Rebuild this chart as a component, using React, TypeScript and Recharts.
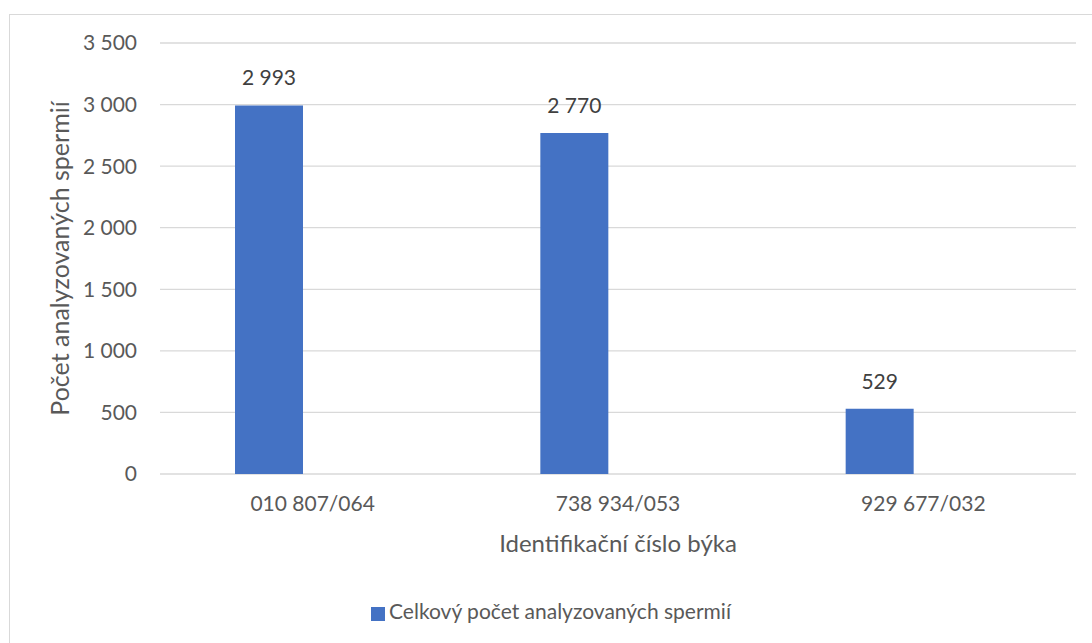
import React from 'react'
import { BarChart, Bar, XAxis, YAxis, CartesianGrid, Legend, LabelList } from 'recharts'

const bulls = ['010 807/064', '738 934/053', '929 677/032']
const spermCounts = [2993, 2770, 529]
const yTicks = [0, 500, 1000, 1500, 2000, 2500, 3000, 3500]

const FONT = 'Lato, "Open Sans", sans-serif'
const TEXT = '#595959'

const fmt = (v: any) => {
  const n = Number(v)
  if (!isFinite(n)) return ''
  return String(Math.round(n)).replace(/\B(?=(\d{3})+(?!\d))/g, ' ')
}

const data = bulls.map((b, i) => ({ bull: b, count: spermCounts[i], empty: null }))

export default function App() {
  return (
    <div style={{ position: 'absolute', left: 0, top: 0, width: 1092, height: 643, overflow: 'hidden', background: '#fff' }}>
      <div
        style={{
          position: 'absolute',
          left: 9,
          top: 14,
          width: 1120,
          height: 660,
          border: '1px solid #d9d9d9',
          boxSizing: 'border-box',
        }}
      />
      <div style={{ position: 'absolute', left: 0, top: 0 }}>
        <BarChart
          width={1092}
          height={643}
          data={data}
          margin={{ top: 43, right: 16, bottom: 54, left: 0 }}
          barGap={0}
        >
          <CartesianGrid vertical={false} stroke="#d9d9d9" strokeWidth={1.3} />
          <XAxis
            dataKey="bull"
            axisLine={false}
            tickLine={false}
            tickSize={0}
            tickMargin={22}
            height={90}
            tick={{ fill: TEXT, fontSize: 21, fontFamily: FONT }}
            label={{
              value: 'Identifikační číslo býka',
              position: 'insideBottom',
              offset: 12,
              fill: TEXT,
              fontSize: 24,
              fontFamily: FONT,
            }}
          />
          <YAxis
            domain={[0, 3500]}
            ticks={yTicks}
            interval={0}
            width={160}
            axisLine={false}
            tickLine={false}
            tickSize={0}
            tickMargin={23}
            tickFormatter={fmt}
            tick={{ fill: TEXT, fontSize: 21, fontFamily: FONT }}
            label={{
              value: 'Počet analyzovaných spermií',
              angle: -90,
              position: 'insideLeft',
              offset: 60,
              style: { textAnchor: 'middle' },
              fill: TEXT,
              fontSize: 25,
              fontFamily: FONT,
            }}
          />
          <Legend
            verticalAlign="bottom"
            iconType="square"
            iconSize={14}
            wrapperStyle={{ left: 0, width: 1112, bottom: 20, fontFamily: FONT, fontSize: 21 }}
            formatter={(value: any) => <span style={{ color: TEXT }}>{value}</span>}
          />
          <Bar
            dataKey="count"
            name="Celkový počet analyzovaných spermií"
            fill="#4472C4"
            barSize={68}
            isAnimationActive={false}
          >
            <LabelList
              dataKey="count"
              position="top"
              offset={20}
              formatter={fmt}
              style={{ fill: '#404040', fontSize: 21, fontFamily: FONT }}
            />
          </Bar>
          <Bar dataKey="empty" legendType="none" fill="transparent" barSize={87} isAnimationActive={false} />
        </BarChart>
      </div>
    </div>
  )
}
